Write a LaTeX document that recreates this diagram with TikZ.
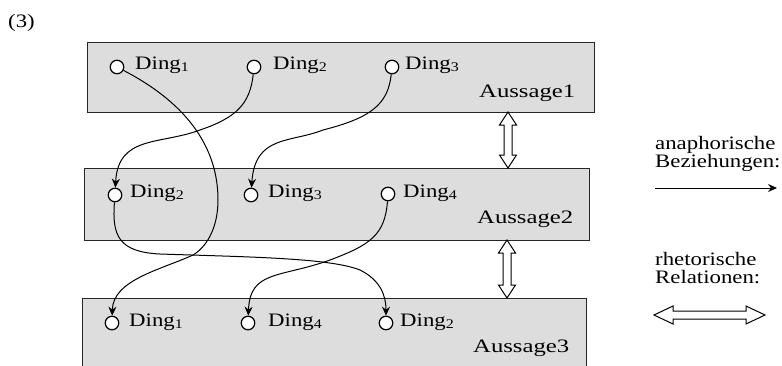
\documentclass[tikz,border=0pt]{standalone}
\usepackage{fontspec}
\setmainfont[FakeStretch=1.2]{Liberation Serif}
\newfontfamily\ausfont[FakeStretch=1.3]{Liberation Serif}
\usetikzlibrary{arrows.meta,calc}
\definecolor{boxgray}{RGB}{222,221,222}
\begin{document}
\begin{tikzpicture}[x=1pt,y=-1pt,
  every node/.style={font=\fontsize{19}{22}\selectfont},
  box/.style={draw=black!85,line width=1.2pt,fill=boxgray,anchor=north west,inner sep=0pt},
  ding/.style={circle,draw,line width=1.2pt,fill=white,minimum size=13.5pt,inner sep=0pt},
  lab/.style={anchor=base west,inner sep=0pt},
  leg/.style={anchor=base west,inner sep=0pt,align=left,font=\fontsize{19}{17.5}\selectfont},
  aus/.style={anchor=base west,inner sep=0pt,font=\fontsize{19}{22}\ausfont},
  conn/.style={line width=1pt,-{Stealth[length=9pt,width=8pt,inset=3pt]}},
  dbl/.style={draw,line width=1pt,fill=white,line join=miter}]
\useasboundingbox (0,0) rectangle (782,365);
\clip (0,0) rectangle (782,365);
% boxes
\node[box,minimum width=507pt,minimum height=70pt] (b1) at (87,42) {};
\node[box,minimum width=505pt,minimum height=72pt] (b2) at (84,168) {};
\node[box,minimum width=504pt,minimum height=90pt] (b3) at (82,298) {};
% number
\node[lab] (num) at (8,27) {(3)};
% things, box 1
\node[ding] (c11) at (117,67) {};
\node[ding] (c12) at (254,67) {};
\node[ding] (c13) at (392,67) {};
\node[lab] (t11) at ([xshift=18pt,yshift=-2pt]c11.center) {Ding\textsubscript{1}};
\node[lab] (t12) at ([xshift=19pt,yshift=-2pt]c12.center) {Ding\textsubscript{2}};
\node[lab] (t13) at ([xshift=13pt,yshift=-2pt]c13.center) {Ding\textsubscript{3}};
\node[aus] (a1) at (479,97) {Aussage1};
% box 2
\node[ding] (c21) at (115,195) {};
\node[ding] (c22) at (251,195) {};
\node[ding] (c23) at (388,194) {};
\node[lab] (t21) at ([xshift=15pt,yshift=-2pt]c21.center) {Ding\textsubscript{2}};
\node[lab] (t22) at ([xshift=17pt,yshift=-2pt]c22.center) {Ding\textsubscript{3}};
\node[lab] (t23) at ([xshift=15pt,yshift=-3pt]c23.center) {Ding\textsubscript{4}};
\node[aus] (a2) at (477,223) {Aussage2};
% box 3
\node[ding] (c31) at (112,323) {};
\node[ding] (c32) at (248,323) {};
\node[ding] (c33) at (386,323) {};
\node[lab] (t31) at ([xshift=17pt,yshift=-3pt]c31.center) {Ding\textsubscript{1}};
\node[lab] (t32) at ([xshift=20pt,yshift=-3pt]c32.center) {Ding\textsubscript{4}};
\node[lab] (t33) at ([xshift=14pt,yshift=-3pt]c33.center) {Ding\textsubscript{2}};
\node[aus] (a3) at (473,352) {Aussage3};
% anaphoric relations
\draw[conn] (c11) .. controls (190,105) and (218,150) .. (218,200)
  .. controls (218,230) and (205,248) .. (193,255)
  .. controls (160,270) and (113,280) .. (c31);
\draw[conn] (c12) .. controls (250,105) and (235,118) .. (200,130)
  .. controls (160,145) and (118,135) .. (c21);
\draw[conn] (c13) .. controls (388,105) and (370,118) .. (323,130)
  .. controls (290,143) and (255,135) .. (c22);
\draw[conn] (c21) .. controls (112,235) and (118,252) .. (160,254)
  .. controls (250,257) and (330,258) .. (360,270)
  .. controls (380,280) and (386,295) .. (c33);
\draw[conn] (c23) .. controls (385,235) and (370,245) .. (330,260)
  .. controls (280,278) and (250,270) .. (c32);
% rhetorical relations
\coordinate (v1t) at (508,112);
\coordinate (v2t) at (507,240);
\draw[dbl] (v1t) -- ++(8.5,13) -- ++(-4.5,0) -- ++(0,30) -- ++(4.5,0) -- ++(-8.5,13)
  -- ++(-8.5,-13) -- ++(4.5,0) -- ++(0,-30) -- ++(-4.5,0) -- cycle;
\draw[dbl] (v2t) -- ++(8.5,13) -- ++(-4.5,0) -- ++(0,32) -- ++(4.5,0) -- ++(-8.5,13)
  -- ++(-8.5,-13) -- ++(4.5,0) -- ++(0,-32) -- ++(-4.5,0) -- cycle;
% legend
\node[leg] (l1) at (655,167) {anaphorische\\Beziehungen:};
\coordinate (la) at (655,188);
\coordinate (lb) at (777,188);
\draw[conn] (la) -- (lb);
\node[leg] (l3) at (655,283) {rhetorische\\Relationen:};
\coordinate (hl) at (654,315);
\draw[dbl] (hl) -- ++(19,-9) -- ++(0,5) -- ++(73,0) -- ++(0,-5) -- ++(19,9)
  -- ++(-19,9) -- ++(0,-5) -- ++(-73,0) -- ++(0,5) -- cycle;
\end{tikzpicture}
\end{document}
